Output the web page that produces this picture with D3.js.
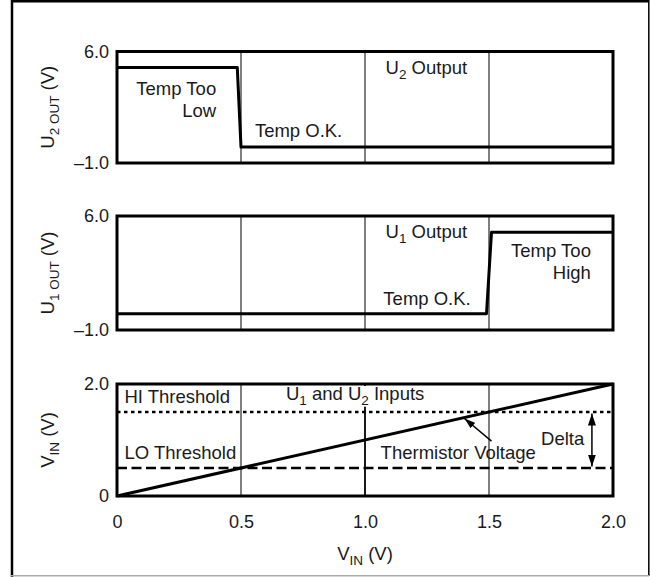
<!DOCTYPE html>
<html><head><meta charset="utf-8">
<script src="https://cdn.jsdelivr.net/npm/d3@7"></script>
<style>
html,body{margin:0;padding:0;background:#fff;}
svg{display:block;font-family:"Liberation Sans",Arial,Helvetica,sans-serif;}
</style></head><body>
<svg id="chart" width="650" height="577"></svg>
<script>
// ---------- data ----------
const xTicks = [0, 0.5, 1.0, 1.5, 2.0];
const xTickLabels = ["0", "0.5", "1.0", "1.5", "2.0"];
const gridX = [0.5, 1.0, 1.5];
const outTicks = [-1, 6];
const outTickLabels = ["\u20131.0", "6.0"];
const vinTicks = [0, 2];
const vinTickLabels = ["0", "2.0"];
const u2X = [0, 0.485, 0.5, 2.0];
const u2Y = [5, 5, 0, 0];
const u1X = [0, 1.49, 1.51, 2.0];
const u1Y = [0, 0, 5, 5];
const thermX = [0, 2.0];
const thermY = [0, 2.0];
const hiThreshold = 1.5;
const loThreshold = 0.5;

// ---------- layout ----------
const svg = d3.select("#chart");
const FS = 18.5;
const x = d3.scaleLinear().domain([0, 2]).range([117, 613]);

// outer frame
svg.append("line").attr("x1", 12).attr("x2", 12).attr("y1", 0).attr("y2", 577).attr("stroke", "#000").attr("stroke-width", 2.5);
svg.append("line").attr("x1", 11).attr("x2", 649).attr("y1", 1.3).attr("y2", 1.3).attr("stroke", "#000").attr("stroke-width", 2.5);
svg.append("line").attr("x1", 648.8).attr("x2", 648.8).attr("y1", 0).attr("y2", 576).attr("stroke", "#000").attr("stroke-width", 1.5);
svg.append("line").attr("x1", 11).attr("x2", 649).attr("y1", 575.7).attr("y2", 575.7).attr("stroke", "#aaa").attr("stroke-width", 1.5);

function rich(g, xPos, yPos, parts, anchor, rotate) {
  const t = g.append("text")
    .attr("font-size", FS)
    .attr("fill", "#1a1a1a")
    .attr("text-anchor", anchor || "start");
  if (rotate) {
    t.attr("transform", `translate(${xPos},${yPos}) rotate(-90)`);
  } else {
    t.attr("x", xPos).attr("y", yPos);
  }
  let shifted = 0;
  parts.forEach(p => {
    const ts = t.append("tspan").text(p.t);
    if (p.sub) {
      ts.attr("font-size", 13.5).attr("dy", 5 - shifted);
      shifted = 5;
    } else {
      if (shifted) ts.attr("dy", -shifted);
      shifted = 0;
    }
  });
  return t;
}

const panels = [
  {top: 51.5, bottom: 163, domain: [-1, 6], ticks: outTicks, labels: outTickLabels,
   title: [{t: "U"}, {t: "2 OUT", sub: true}, {t: " (V)"}]},
  {top: 216, bottom: 330, domain: [-1, 6], ticks: outTicks, labels: outTickLabels,
   title: [{t: "U"}, {t: "1 OUT", sub: true}, {t: " (V)"}]},
  {top: 384, bottom: 496, domain: [0, 2], ticks: vinTicks, labels: vinTickLabels,
   title: [{t: "V"}, {t: "IN", sub: true}, {t: " (V)"}]}
];

const lineGen = (xs, ys, y) => d3.line().x((d, i) => x(xs[i])).y((d, i) => y(ys[i]))(xs);

panels.forEach((p, pi) => {
  const y = d3.scaleLinear().domain(p.domain).range([p.bottom, p.top]);
  p.y = y;
  const g = svg.append("g");
  // grid
  g.selectAll("line.grid").data(gridX).join("line")
    .attr("x1", d => x(d)).attr("x2", d => x(d))
    .attr("y1", p.top).attr("y2", p.bottom)
    .attr("stroke", "#000")
    .attr("stroke-width", d => (pi === 2 && d === 1.0) ? 1.8 : 1);
  // y axis
  const ax = d3.axisLeft(y).tickValues(p.ticks).tickFormat((d, i) => p.labels[i]).tickSize(0).tickPadding(8);
  const ag = g.append("g").attr("transform", `translate(${x(0)},0)`).call(ax);
  ag.select(".domain").remove();
  ag.selectAll("text").attr("font-size", 18).attr("fill", "#1a1a1a").attr("font-family", null);
  // title
  rich(g, 54, (p.top + p.bottom) / 2, p.title, "middle", true);
  p.g = g;
});

// Panel 1: U2 output
{
  const p = panels[0], y = p.y, g = p.g;
  g.append("path").attr("d", lineGen(u2X, u2Y, y)).attr("fill", "none").attr("stroke", "#000").attr("stroke-width", 3).attr("stroke-linejoin", "round");
  rich(g, x(0.40), y(3.28), [{t: "Temp Too"}], "end");
  rich(g, x(0.40), y(1.875), [{t: "Low"}], "end");
  rich(g, x(0.556), y(0.625), [{t: "Temp O.K."}]);
  rich(g, x(1.083), y(4.56), [{t: "U"}, {t: "2", sub: true}, {t: " Output"}]);
}
// Panel 2: U1 output
{
  const p = panels[1], y = p.y, g = p.g;
  g.append("path").attr("d", lineGen(u1X, u1Y, y)).attr("fill", "none").attr("stroke", "#000").attr("stroke-width", 3).attr("stroke-linejoin", "round");
  rich(g, x(1.083), y(4.65), [{t: "U"}, {t: "1", sub: true}, {t: " Output"}]);
  rich(g, x(1.911), y(3.48), [{t: "Temp Too"}], "end");
  rich(g, x(1.911), y(2.13), [{t: "High"}], "end");
  rich(g, x(1.074), y(0.54), [{t: "Temp O.K."}]);
}
// Panel 3: inputs
{
  const p = panels[2], y = p.y, g = p.g;
  g.append("line").attr("x1", x(0)).attr("x2", x(2)).attr("y1", y(hiThreshold)).attr("y2", y(hiThreshold))
    .attr("stroke", "#000").attr("stroke-width", 2.5).attr("stroke-dasharray", "3.5,3.5");
  g.append("line").attr("x1", x(0)).attr("x2", x(2)).attr("y1", y(loThreshold)).attr("y2", y(loThreshold))
    .attr("stroke", "#000").attr("stroke-width", 2.5).attr("stroke-dasharray", "10,4.5");
  g.append("path").attr("d", lineGen(thermX, thermY, y)).attr("fill", "none").attr("stroke", "#000").attr("stroke-width", 3);

  // label with white background covering the grid line
  const lbl = rich(g, x(0.681), y(1.72), [{t: "U"}, {t: "1", sub: true}, {t: " and U"}, {t: "2", sub: true}, {t: " Inputs"}]);
  const bb = lbl.node().getBBox();
  g.insert("rect", () => lbl.node()).attr("x", bb.x - 2).attr("y", p.top + 2).attr("width", bb.width + 4).attr("height", bb.y + bb.height - p.top - 3).attr("fill", "#fff");

  rich(g, x(0.03), y(1.66), [{t: "HI Threshold"}]);
  rich(g, x(0.03), y(0.66), [{t: "LO Threshold"}]);
  rich(g, x(1.063), y(0.66), [{t: "Thermistor Voltage"}]);
  rich(g, x(1.71), y(0.91), [{t: "Delta"}]);

  const defs = svg.append("defs");
  defs.append("marker").attr("id", "ah").attr("viewBox", "0 0 12 8").attr("refX", 12).attr("refY", 4)
    .attr("markerWidth", 12).attr("markerHeight", 8).attr("markerUnits", "userSpaceOnUse").attr("orient", "auto-start-reverse")
    .append("path").attr("d", "M0,0 L12,4 L0,8 Z").attr("fill", "#000");
  defs.append("marker").attr("id", "ah2").attr("viewBox", "0 0 11 7").attr("refX", 11).attr("refY", 3.5)
    .attr("markerWidth", 11).attr("markerHeight", 7).attr("markerUnits", "userSpaceOnUse").attr("orient", "auto")
    .append("path").attr("d", "M0,0 L11,3.5 L0,7 Z").attr("fill", "#000");

  // Delta double arrow
  g.append("line").attr("x1", x(1.915)).attr("x2", x(1.915)).attr("y1", y(hiThreshold) + 1.5).attr("y2", y(loThreshold) - 1.5)
    .attr("stroke", "#000").attr("stroke-width", 1.5)
    .attr("marker-start", "url(#ah)").attr("marker-end", "url(#ah)");
  // Thermistor pointer
  g.append("line").attr("x1", x(1.51)).attr("y1", y(0.98)).attr("x2", x(1.401)).attr("y2", y(1.384))
    .attr("stroke", "#000").attr("stroke-width", 1.5).attr("marker-end", "url(#ah2)");

  // x axis
  const ax = d3.axisBottom(x).tickValues(xTicks).tickFormat((d, i) => xTickLabels[i]).tickSize(0).tickPadding(19);
  const ag = g.append("g").attr("transform", `translate(0,${p.bottom})`).call(ax);
  ag.select(".domain").remove();
  ag.selectAll("text").attr("font-size", 18).attr("fill", "#1a1a1a").attr("font-family", null);
  rich(svg, (x(0) + x(2)) / 2, 560, [{t: "V"}, {t: "IN", sub: true}, {t: " (V)"}], "middle");
}

// panel borders on top
panels.forEach(p => {
  svg.append("rect").attr("x", x(0)).attr("y", p.top).attr("width", x(2) - x(0)).attr("height", p.bottom - p.top)
    .attr("fill", "none").attr("stroke", "#000").attr("stroke-width", 3);
});
</script>
</body></html>
